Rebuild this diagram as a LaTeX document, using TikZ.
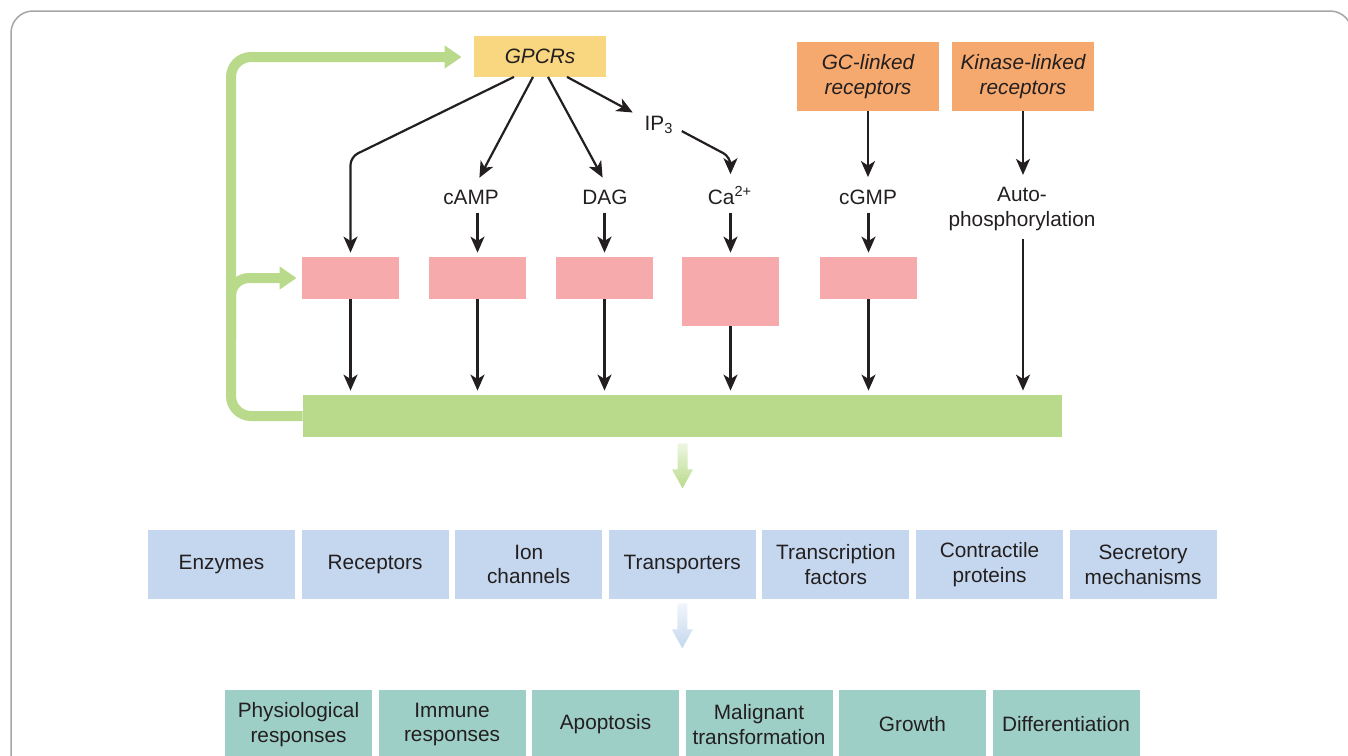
\documentclass[tikz,border=0pt]{standalone}
\usepackage{fontspec}
\setmainfont{Liberation Sans}
\usetikzlibrary{arrows.meta,calc}

\definecolor{inkgray}{RGB}{35,31,32}
\definecolor{framegray}{RGB}{165,165,165}
\definecolor{gpcryellow}{RGB}{249,214,128}
\definecolor{recorange}{RGB}{246,169,110}
\definecolor{effpink}{RGB}{246,170,172}
\definecolor{bargreen}{RGB}{185,218,138}
\definecolor{targetblue}{RGB}{197,215,238}
\definecolor{outteal}{RGB}{157,207,198}

% wide arrow that fades out towards its tail
\newcommand{\fadearrow}[2]{%
  \shade[top color=#2!25, middle color=#2, bottom color=#2, shift={(#1)}]
    (-5,0) -- (5,0) -- (5,26) -- (10.5,26) -- (0,45) -- (-10.5,26) -- (-5,26) -- cycle;}

\begin{document}
\begin{tikzpicture}[x=0.5pt, y=-0.5pt, font=\fontsize{10.4}{12.4}\selectfont, text=inkgray,
    box/.style={inner sep=0pt, align=center},
    receptor/.style={box, fill=recorange, minimum width=71pt, minimum height=34.5pt,
      font=\fontsize{10.4}{12.4}\selectfont\itshape},
    effector/.style={box, fill=effpink, minimum width=48.5pt, minimum height=21pt},
    target/.style={box, fill=targetblue, minimum width=73.5pt, minimum height=34.5pt},
    outcome/.style={box, fill=outteal, minimum width=73.5pt, minimum height=34.5pt},
    messenger/.style={inner sep=4pt, align=center},
    arr/.style={draw=inkgray, line width=1.1pt, shorten >=2pt,
      -{Stealth[length=8pt, width=7pt, inset=2.2pt]}},
    feedback/.style={draw=bargreen, line width=5pt, -{Triangle[length=8.5pt, width=11pt]}}]
    \useasboundingbox (0,0) rectangle (1348,755);
    \clip (0,0) rectangle (1348,755);
    % Outer frame
    \draw[framegray, line width=0.75pt, rounded corners=11pt] (11,11) rectangle (1352,820);

    % Receptor families
    \node[box, fill=gpcryellow, minimum width=66pt, minimum height=20.5pt,
      font=\fontsize{10.4}{12.4}\selectfont\itshape] (gpcr) at (540,56) {GPCRs};
    \node[receptor] (gc) at (868,76.5) {GC-linked\\receptors};
    \node[receptor] (kin) at (1023,76.5) {Kinase-linked\\receptors};

    % Second messengers
    \node[messenger] (ip3) at (659,125) {IP\textsubscript{3}};
    \node[messenger, anchor=base] (camp) at (471,204) {cAMP};
    \node[messenger, anchor=base] (dag) at (605,204) {DAG};
    \node[messenger, anchor=base] (ca) at (730,204) {Ca\textsuperscript{2+}};
    \node[messenger, anchor=base] (cgmp) at (868,204) {cGMP};
    \node[messenger] (auto) at (1022,209) {Auto-\\phosphorylation};

    % Effector boxes and the common bar below them
    \node[effector] (p1) at (350.5,278) {};
    \node[effector] (p2) at (477.5,278) {};
    \node[effector] (p3) at (604.5,278) {};
    \node[effector, minimum height=34.5pt] (p4) at (730.5,291.5) {};
    \node[effector] (p5) at (868.5,278) {};
    \node[box, fill=bargreen, minimum width=379.5pt, minimum height=21pt] (bar) at (682.5,416) {};

    % GPCR routes
    \coordinate (pbend) at (350.5,157);
    \coordinate (cabend) at (730.5,157);
    \draw[arr, rounded corners=4pt] ($(gpcr.south)+(-26,0)$) -- (pbend) -- (p1.north);
    \draw[arr] ($(gpcr.south)+(-7,0)$) -- (camp.north -| p2.north);
    \draw[arr] ($(gpcr.south)+(8,0)$) -- (dag.north -| p3.north);
    \draw[arr] ($(gpcr.south)+(27,0)$) -- (ip3.155);
    \draw[arr, rounded corners=4pt] (ip3.-15) -- (cabend) -- (ca.north -| p4.north);
    \draw[arr] (camp.south -| p2.north) -- (p2.north);
    \draw[arr] (dag.south -| p3.north) -- (p3.north);
    \draw[arr] (ca.south -| p4.north) -- (p4.north);

    % GC-linked and kinase-linked routes
    \draw[arr] (gc.south) -- (gc.south |- cgmp.north);
    \draw[arr] (cgmp.south -| p5.north) -- (p5.north);
    \draw[arr] (kin.south) -- (kin.south |- auto.north);
    \draw[arr] (kin.south |- auto.south) -- (kin.south |- bar.north);

    % Effectors onto the bar
    \foreach \p in {p1,p2,p3,p4,p5}
      \draw[arr] (\p.south) -- (\p.south |- bar.north);

    % Feedback loop back to the receptors
    \coordinate (fbbot) at (231,416);
    \coordinate (fbtop) at (231,57);
    \coordinate (fbfork) at (231,340);
    \draw[feedback, rounded corners=10pt, shorten >=6pt] (bar.west) -- (fbbot) -- (fbtop) -- (fbtop -| gpcr.west);
    \draw[feedback, rounded corners=9pt, shorten >=2.5pt] (fbfork) -- (fbfork |- p1.west) -- (p1.west);

    % Targets
    \foreach \txt [count=\i from 0] in {Enzymes, Receptors, Ion\\channels, Transporters,
        Transcription\\factors, Contractile\\proteins, Secretory\\mechanisms}
      \node[target] (t\i) at (221.5+153.6*\i, 564.5) {\txt};

    % Outcomes
    \foreach \txt [count=\i from 0] in {Physiological\\responses, Immune\\responses, Apoptosis,
        Malignant\\transformation, Growth, Differentiation}
      \node[outcome] (o\i) at (298.5+153.5*\i, 724.5) {\txt};

    % Fading arrows between the rows
    \coordinate (fadebar) at ($(bar.south)+(0,6)$);
    \coordinate (fadetgt) at ($(t3.south)+(0,4)$);
    \fadearrow{fadebar}{bargreen}
    \fadearrow{fadetgt}{targetblue}
\end{tikzpicture}
\end{document}
